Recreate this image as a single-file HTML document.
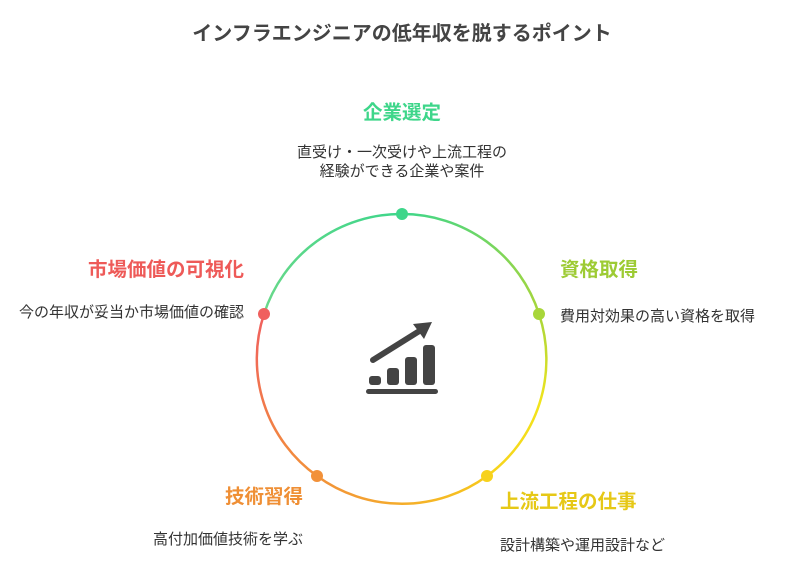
<!DOCTYPE html>
<html><head><meta charset="utf-8"><style>
body{margin:0;background:#fff;width:796px;height:573px;overflow:hidden;font-family:"Liberation Sans","Noto Sans CJK JP",sans-serif}
</style></head><body>
<svg width="796" height="573" viewBox="0 0 796 573" xmlns="http://www.w3.org/2000/svg" style="font-family:'Liberation Sans','Noto Sans CJK JP',sans-serif">
<defs>
<linearGradient id="g1" gradientUnits="userSpaceOnUse" x1="402" y1="214" x2="539" y2="314"><stop offset="0" stop-color="#3ed68a"/><stop offset="1" stop-color="#a8d63a"/></linearGradient>
<linearGradient id="g2" gradientUnits="userSpaceOnUse" x1="539" y1="314" x2="487" y2="476"><stop offset="0" stop-color="#a8d63a"/><stop offset="0.5" stop-color="#f2e41c"/><stop offset="1" stop-color="#f7d21c"/></linearGradient>
<linearGradient id="g3" gradientUnits="userSpaceOnUse" x1="487" y1="476" x2="317" y2="476"><stop offset="0" stop-color="#f7c81c"/><stop offset="1" stop-color="#f29139"/></linearGradient>
<linearGradient id="g4" gradientUnits="userSpaceOnUse" x1="317" y1="476" x2="264" y2="314"><stop offset="0" stop-color="#f29139"/><stop offset="1" stop-color="#f0605e"/></linearGradient>
<linearGradient id="g5" gradientUnits="userSpaceOnUse" x1="264" y1="314" x2="402" y2="214"><stop offset="0" stop-color="#6ad88a"/><stop offset="1" stop-color="#3ed68a"/></linearGradient>
</defs>
<g fill="none" stroke-width="2.5">
<path d="M402 214 A144 144 0 0 1 539 314" stroke="url(#g1)"/>
<path d="M539 314 A144 144 0 0 1 487 476" stroke="url(#g2)"/>
<path d="M487 476 A144 144 0 0 1 317 476" stroke="url(#g3)"/>
<path d="M317 476 A144 144 0 0 1 264 314" stroke="url(#g4)"/>
<path d="M264 314 A144 144 0 0 1 402 214" stroke="url(#g5)"/>
</g>
<circle cx="402" cy="214" r="6" fill="#3ed68a"/>
<circle cx="539" cy="314" r="6" fill="#a8d63a"/>
<circle cx="487" cy="476" r="6" fill="#f7d21c"/>
<circle cx="317" cy="476" r="6" fill="#f29139"/>
<circle cx="264" cy="314" r="6" fill="#f0605e"/>
<g fill="#444">
<rect x="369" y="376" width="12" height="9" rx="3"/>
<rect x="387" y="368" width="12" height="17" rx="3"/>
<rect x="405" y="357" width="12" height="28" rx="3"/>
<rect x="423" y="345" width="12" height="40" rx="3"/>
<rect x="366" y="389" width="72" height="5" rx="2.5"/>
<line x1="373" y1="360" x2="421" y2="330" stroke="#444" stroke-width="6" stroke-linecap="round"/>
<polygon points="432,322 413,324 424,339"/>
</g>
<text x="402" y="40" text-anchor="middle" font-size="20" font-weight="bold" fill="#444">インフラエンジニアの低年収を脱するポイント</text>
<text x="402" y="119" text-anchor="middle" font-size="19.5" font-weight="bold" fill="#3ed68a">企業選定</text>
<text x="402" y="157" text-anchor="middle" font-size="15" fill="#333">直受け・一次受けや上流工程の</text>
<text x="402" y="176" text-anchor="middle" font-size="15" fill="#333">経験ができる企業や案件</text>
<text x="560" y="276" font-size="19.5" font-weight="bold" fill="#9dcb34">資格取得</text>
<text x="560" y="321" font-size="15" fill="#333">費用対効果の高い資格を取得</text>
<text x="500" y="508" font-size="19.5" font-weight="bold" fill="#e6c816">上流工程の仕事</text>
<text x="500" y="550" font-size="15" fill="#333">設計構築や運用設計など</text>
<text x="303" y="503" text-anchor="end" font-size="19.5" font-weight="bold" fill="#ef8f35">技術習得</text>
<text x="303" y="544" text-anchor="end" font-size="15" fill="#333">高付加価値技術を学ぶ</text>
<text x="244" y="276" text-anchor="end" font-size="19.5" font-weight="bold" fill="#ee5a58">市場価値の可視化</text>
<text x="244" y="317" text-anchor="end" font-size="15" fill="#333">今の年収が妥当か市場価値の確認</text>
</svg>
</body></html>
